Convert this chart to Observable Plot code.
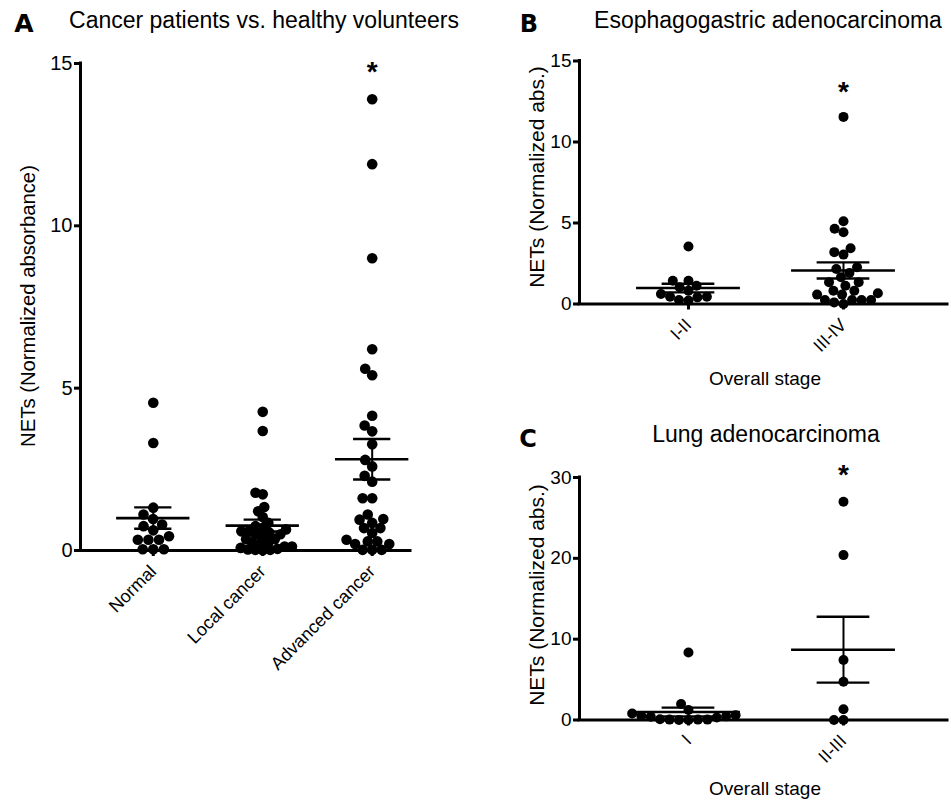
<!DOCTYPE html>
<html><head><meta charset="utf-8">
<script src="https://cdn.jsdelivr.net/npm/d3@7"></script>
<script src="https://cdn.jsdelivr.net/npm/@observablehq/plot@0.6"></script>
<style>
body{margin:0;background:#fff;}
#root{position:relative;width:951px;height:801px;overflow:hidden;background:#fff;font-family:"Liberation Sans",Arial,sans-serif;}
.abs{position:absolute;white-space:nowrap;color:#000;}
.plot{position:absolute;}
</style></head><body><div id="root"></div>
<script>
// ---------- Data ----------
const catsA = ["Normal", "Local cancer", "Advanced cancer"];
const normal = [4.55, 3.31, 1.32, 1.11, 0.97, 0.80, 0.75, 0.62, 0.44, 0.33, 0.33, 0.33, 0.04, 0.04, 0.04];
const localCancer = [4.27, 3.68, 1.78, 1.73, 1.34, 1.21, 1.03, 0.85, 0.75, 0.70, 0.65, 0.59, 0.59, 0.55, 0.50, 0.49, 0.45, 0.35, 0.35, 0.25, 0.23, 0.23, 0.12, 0.12, 0.08, 0.05, 0.03, 0.02, 0.02, 0.01];
const advancedCancer = [13.9, 11.9, 9.0, 6.2, 5.6, 5.4, 4.15, 3.85, 3.67, 3.27, 2.79, 2.59, 2.30, 2.12, 1.61, 1.61, 1.11, 0.97, 0.95, 0.85, 0.69, 0.69, 0.54, 0.33, 0.28, 0.28, 0.20, 0.20, 0.02, 0.02, 0.02];
const ticksA = [0, 5, 10, 15];
const sigA = ["Advanced cancer"];

const catsB = ["I-II", "III-IV"];
const stageI_II = [3.55, 1.44, 1.44, 1.13, 1.03, 0.82, 0.62, 0.45, 0.45, 0.41, 0.25, 0.21];
const stageIII_IV = [11.55, 5.11, 4.64, 4.43, 3.44, 3.20, 3.05, 2.27, 2.16, 1.92, 1.65, 1.34, 1.34, 1.13, 0.82, 0.82, 0.66, 0.58, 0.58, 0.25, 0.25, 0.25, 0.25, 0.10, 0.0];
const ticksB = [0, 5, 10, 15];
const sigB = ["III-IV"];

const catsC = ["I", "II-III"];
const stageI = [8.36, 1.98, 1.24, 0.80, 0.60, 0.50, 0.45, 0.40, 0.30, 0.10, 0.05, 0.05, 0.05, 0.0, 0.0];
const stageII_III = [27.0, 20.4, 7.42, 4.74, 1.32, 0.0, 0.0];
const ticksC = [0, 10, 20, 30];
const sigC = ["II-III"];

const yLabelA = "NETs (Normalized absorbance)";
const yLabelBC = "NETs (Normalized abs.)";
const xLabelBC = "Overall stage";
const titleA = "Cancer patients vs. healthy volunteers";
const titleB = "Esophagogastric adenocarcinoma";
const titleC = "Lung adenocarcinoma";

// ---------- Helpers ----------
const root = document.getElementById("root");
const FONT = "'Liberation Sans', Arial, sans-serif";

function dodge(vals, r, ky, overlap) {
  const order = d3.range(vals.length).sort((a, b) => vals[a] - vals[b]);
  const out = new Array(vals.length);
  const placed = [];
  const dmin = 2 * r * overlap;
  for (const idx of order) {
    const py = vals[idx] * ky;
    const iv = [];
    for (const p of placed) {
      const dy = Math.abs(p.py - py);
      if (dy < dmin) { const w = Math.sqrt(dmin * dmin - dy * dy); iv.push([p.px - w, p.px + w]); }
    }
    const cands = [0];
    iv.forEach(([a, b]) => cands.push(a, b));
    cands.sort((a, b) => Math.abs(a) - Math.abs(b) || a - b);
    let x = 0;
    for (const c of cands) {
      if (iv.every(([a, b]) => c <= a + 1e-6 || c >= b - 1e-6)) { x = c; break; }
    }
    placed.push({px: x, py});
    out[idx] = x;
  }
  return out;
}

function panel(cfg) {
  const {groups, cats, sig, yDomain, yTicks, xDomain, left, top, width, height, mL, mR, mT, mB, r, starDy, tickFont, overlap} = cfg;
  const kx = (width - mL - mR) / (xDomain[1] - xDomain[0]);
  const ky = (height - mT - mB) / (yDomain[1] - yDomain[0]);
  const pts = groups.flatMap((vals, i) => {
    const offs = dodge(vals, r, ky, overlap[i]);
    return vals.map((v, j) => ({cat: i, v, dx: offs[j]}));
  });
  const stats = groups.map((vals, i) => {
    const m = d3.mean(vals), s = d3.deviation(vals) / Math.sqrt(vals.length);
    return {cat: i, mean: m, lo: m - s, hi: m + s};
  });
  const chart = Plot.plot({
    width, height, marginLeft: mL, marginRight: mR, marginTop: mT, marginBottom: mB,
    style: {fontFamily: FONT, color: "black", background: "transparent", overflow: "visible"},
    x: {domain: xDomain, axis: null},
    y: {domain: yDomain, axis: null},
    marks: [
      Plot.axisY({ticks: yTicks, tickSize: 6, tickPadding: 2, strokeWidth: 3, fontSize: tickFont, label: null, tickFormat: d => String(d)}),
      Plot.axisX({ticks: d3.range(cats.length), tickFormat: i => cats[i], tickRotate: -45, tickSize: 6, tickPadding: 12, strokeWidth: 3, fontSize: 18, label: null}),
      Plot.ruleY([yDomain[0]], {stroke: "black", strokeWidth: 3, strokeLinecap: "square"}),
      Plot.ruleX([xDomain[0]], {y1: yDomain[0], y2: yDomain[1], stroke: "black", strokeWidth: 3, strokeLinecap: "square"}),
      Plot.dot(pts, {x: d => d.cat + d.dx / kx, y: "v", r, fill: "black", stroke: "none"}),
      Plot.ruleX(stats, {x: "cat", y1: "lo", y2: "hi", stroke: "black", strokeWidth: 2}),
      Plot.ruleY(stats, {y: "mean", x1: d => d.cat - 0.335, x2: d => d.cat + 0.335, stroke: "black", strokeWidth: 2.6}),
      Plot.ruleY(stats, {y: "hi", x1: d => d.cat - 0.17, x2: d => d.cat + 0.17, stroke: "black", strokeWidth: 2.4}),
      Plot.ruleY(stats, {y: "lo", x1: d => d.cat - 0.17, x2: d => d.cat + 0.17, stroke: "black", strokeWidth: 2.4}),
      Plot.text(sig, {x: d => cats.indexOf(d), frameAnchor: "top", dy: starDy, text: () => "*", fontSize: 28, fontWeight: "bold", fill: "black"})
    ]
  });
  const wrap = document.createElement("div");
  wrap.className = "plot";
  wrap.style.left = left + "px"; wrap.style.top = top + "px";
  wrap.appendChild(chart);
  root.appendChild(wrap);
}

function txt(s, x, base, size, opts = {}) {
  const el = document.createElement("div");
  el.className = "abs";
  el.textContent = s;
  el.style.fontSize = size + "px";
  el.style.lineHeight = size + "px";
  el.style.fontFamily = opts.family || FONT;
  el.style.fontWeight = opts.weight || "normal";
  el.style.left = x + "px";
  el.style.top = (base - 0.8465 * size) + "px";
  el.style.transform = "translateX(-50%)";
  root.appendChild(el);
}
function vtxt(s, cx, cy, size) {
  const el = document.createElement("div");
  el.className = "abs";
  el.textContent = s;
  el.style.fontSize = size + "px";
  el.style.lineHeight = size + "px";
  el.style.fontFamily = FONT;
  el.style.left = cx + "px";
  el.style.top = cy + "px";
  el.style.transform = "translate(-50%,-50%) rotate(-90deg)";
  root.appendChild(el);
}

// ---------- Panels ----------
panel({groups: [normal, localCancer, advancedCancer], cats: catsA, sig: sigA,
  yDomain: [0, 15], yTicks: ticksA, xDomain: [-0.665, 2.35],
  left: 0, top: 40, width: 440, height: 650, mL: 80, mR: 30, mT: 23, mB: 140, r: 5.3, starDy: -2, tickFont: 20, overlap: [1.0, 0.7, 0.9]});

panel({groups: [stageI_II, stageIII_IV], cats: catsB, sig: sigB,
  yDomain: [0, 15], yTicks: ticksB, xDomain: [-0.703, 1.671],
  left: 520, top: 40, width: 431, height: 330, mL: 59, mR: 4, mT: 20.5, mB: 66.5, r: 5, starDy: 20, tickFont: 19, overlap: [0.95, 0.95]});

panel({groups: [stageI, stageII_III], cats: catsC, sig: sigC,
  yDomain: [0, 30], yTicks: ticksC, xDomain: [-0.703, 1.671],
  left: 520, top: 455, width: 431, height: 345, mL: 59, mR: 4, mT: 22, mB: 80.5, r: 5, starDy: -13, tickFont: 19, overlap: [0.95, 0.95]});

// ---------- Text ----------
txt("A", 24, 32, 25, {family: "'DejaVu Sans', sans-serif", weight: "bold"});
txt(titleA, 264, 28, 23);
txt("B", 529, 32, 24, {family: "'DejaVu Sans', sans-serif", weight: "bold"});
txt(titleB, 768, 28, 23);
txt("C", 528, 447, 24, {family: "'DejaVu Sans', sans-serif", weight: "bold"});
txt(titleC, 766, 442, 23);
txt(xLabelBC, 765, 385, 19);
txt(xLabelBC, 765, 795, 19);
vtxt(yLabelA, 28, 306, 20.3);
vtxt(yLabelBC, 536, 177, 21);
vtxt(yLabelBC, 536, 595, 21);
</script></body></html>
